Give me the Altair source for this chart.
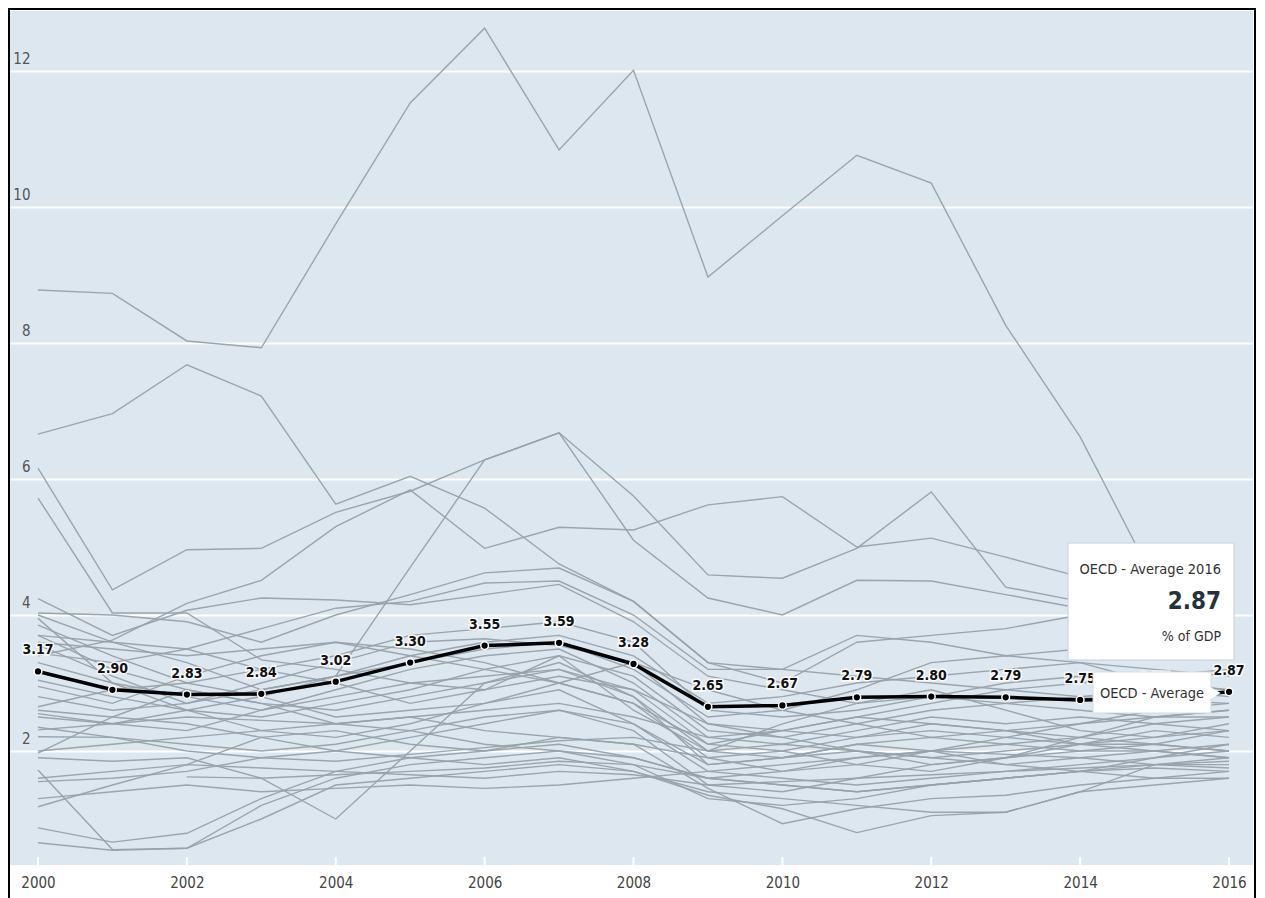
import altair as alt
import pandas as pd

years = list(range(2000, 2017))
oecd_average = [3.17, 2.90, 2.83, 2.84, 3.02, 3.30, 3.55, 3.59, 3.28, 2.65, 2.67, 2.79, 2.80, 2.79, 2.75, 2.77, 2.87]

s01 = [8.78, 8.73, 8.03, 7.93, 9.75, 11.53, 12.63, 10.84, 12.01, 8.97, 9.87, 10.76, 10.35, 8.26, 6.62, 4.50, 4.20]
s02 = [6.66, 6.96, 7.68, 7.22, 5.63, 6.04, 5.57, 4.75, 4.20, 3.30, 3.20, 3.10, 3.00, 2.90, 2.80, 2.75, 2.70]
s03 = [6.16, 4.37, 4.96, 4.98, 5.51, 5.82, 6.28, 6.68, 5.10, 4.25, 4.00, 4.51, 4.50, 4.30, 4.10, 4.00, 3.90]
s04 = [5.72, 4.03, 4.03, 3.34, 3.20, 3.00, 2.90, 3.10, 2.90, 2.40, 2.30, 2.20, 2.30, 2.20, 2.10, 2.10, 2.00]
s05 = [2.50, 2.40, 2.60, 2.80, 3.10, 4.70, 6.28, 6.68, 5.75, 4.59, 4.54, 4.98, 5.81, 4.41, 4.20, 4.05, 3.95]
s06 = [3.40, 3.63, 4.17, 4.51, 5.30, 5.84, 4.98, 5.29, 5.25, 5.62, 5.74, 5.00, 5.13, 4.85, 4.56, 4.40, 4.30]
s07 = [4.24, 3.70, 4.07, 4.25, 4.22, 4.15, 4.30, 4.45, 3.90, 3.10, 2.90, 2.70, 2.80, 2.70, 2.60, 2.50, 2.50]
s08 = [4.03, 4.00, 3.90, 3.60, 4.00, 4.30, 4.62, 4.69, 4.20, 3.30, 3.00, 3.60, 3.70, 3.80, 4.00, 4.20, 4.30]
s09 = [3.70, 3.60, 3.50, 3.80, 4.10, 4.20, 4.47, 4.50, 4.00, 3.20, 3.20, 3.70, 3.60, 3.40, 3.50, 3.60, 3.50]
s10 = [4.00, 3.60, 3.30, 2.90, 3.10, 3.30, 3.50, 3.60, 3.20, 2.50, 2.60, 2.90, 3.30, 3.40, 3.30, 3.20, 3.10]
s11 = [3.95, 3.00, 2.80, 2.60, 2.90, 3.20, 3.40, 3.50, 3.00, 2.20, 2.10, 2.30, 2.50, 2.40, 2.50, 2.40, 2.30]
s12 = [3.85, 3.40, 3.00, 3.20, 3.40, 3.70, 3.80, 3.90, 3.60, 2.60, 2.50, 2.60, 2.80, 3.00, 3.10, 3.00, 2.90]
s13 = [3.70, 3.20, 2.90, 2.70, 2.60, 2.80, 3.00, 3.20, 2.80, 2.00, 1.90, 2.10, 2.20, 2.10, 2.00, 2.00, 1.90]
s14 = [3.56, 3.10, 2.70, 3.00, 3.30, 3.60, 3.65, 3.55, 3.30, 2.40, 2.20, 2.00, 1.90, 1.80, 1.90, 2.00, 2.10]
s15 = [3.44, 3.30, 3.50, 3.20, 3.00, 2.70, 2.90, 3.40, 2.60, 2.00, 2.40, 2.70, 2.90, 2.60, 2.30, 2.20, 2.40]
s16 = [3.04, 2.80, 2.60, 2.50, 2.70, 2.90, 3.20, 3.40, 3.10, 2.30, 2.20, 2.40, 2.60, 2.70, 2.80, 2.90, 2.80]
s17 = [2.95, 2.70, 3.10, 3.40, 3.60, 3.50, 3.30, 3.00, 2.70, 1.90, 1.70, 1.80, 2.00, 2.20, 2.40, 2.50, 2.60]
s18 = [2.65, 2.90, 3.00, 2.80, 2.50, 2.60, 2.70, 2.90, 2.40, 1.70, 1.60, 1.50, 1.60, 1.70, 1.80, 1.90, 2.00]
s19 = [2.55, 2.40, 2.30, 2.60, 2.80, 3.00, 3.10, 3.20, 2.90, 2.10, 2.00, 1.80, 1.70, 1.90, 2.10, 2.30, 2.20]
s20 = [2.31, 2.40, 2.50, 2.45, 2.40, 2.50, 2.60, 2.70, 2.50, 2.20, 2.30, 2.50, 2.40, 2.30, 2.20, 2.40, 2.50]
s21 = [2.21, 2.20, 2.10, 2.00, 2.10, 2.30, 2.50, 2.60, 2.30, 1.50, 1.40, 1.60, 1.80, 1.90, 2.00, 2.10, 2.00]
s22 = [1.97, 2.50, 2.90, 2.70, 2.40, 2.30, 2.10, 2.00, 1.90, 1.60, 1.50, 1.40, 1.50, 1.60, 1.70, 1.80, 1.80]
s23 = [1.72, 0.55, 0.57, 1.20, 1.60, 1.80, 1.90, 2.00, 1.80, 1.30, 1.20, 1.30, 1.50, 1.60, 1.70, 1.60, 1.70]
s24 = [1.55, 1.60, 1.70, 1.90, 2.00, 2.20, 2.40, 2.60, 2.40, 1.80, 1.90, 2.10, 2.00, 1.80, 1.70, 1.90, 2.10]
s25 = [1.18, 1.50, 1.80, 2.20, 2.30, 2.10, 2.00, 2.20, 2.10, 1.45, 0.93, 1.15, 1.30, 1.35, 1.50, 1.60, 1.60]
s26 = [0.87, 0.66, 0.79, 1.30, 1.70, 1.90, 2.00, 2.10, 1.90, 1.60, 1.70, 1.90, 2.00, 2.10, 2.20, 2.10, 2.30]
s27 = [0.65, 0.54, 0.57, 1.00, 1.50, 1.60, 1.70, 1.80, 1.70, 1.40, 1.30, 1.20, 1.10, 1.10, 1.40, 1.50, 1.60]
s28 = [1.90, 1.85, 1.90, 1.60, 1.00, 2.00, 3.00, 3.30, 2.80, 1.80, 1.90, 2.00, 1.80, 1.90, 2.20, 2.50, 2.60]
s29 = [2.60, 2.50, 2.40, 2.20, 2.00, 1.90, 1.80, 1.90, 1.70, 1.35, 1.15, 0.80, 1.05, 1.10, 1.40, 1.80, 1.90]
s30 = [3.30, 3.00, 2.60, 2.30, 2.20, 2.40, 2.70, 3.00, 3.30, 2.90, 2.60, 2.40, 2.20, 2.30, 2.40, 2.60, 2.70]
s31 = [1.60, 1.70, 1.80, 1.75, 1.70, 1.65, 1.60, 1.70, 1.65, 1.50, 1.55, 1.60, 1.65, 1.70, 1.75, 1.80, 1.85]
s32 = [2.00, 2.10, 2.20, 2.30, 2.40, 2.50, 2.30, 2.20, 2.10, 1.90, 2.00, 2.20, 2.40, 2.30, 2.10, 2.00, 1.90]
s33 = [None, None, 1.62, 1.60, 1.65, 1.70, 1.75, 1.85, 1.80, 1.60, 1.50, 1.40, 1.50, 1.60, 1.70, 1.75, 1.70]
s34 = [3.60, 3.50, 3.40, 3.50, 3.60, 3.40, 3.20, 3.00, 2.70, 2.10, 2.30, 2.50, 2.70, 2.90, 3.00, 3.10, 3.20]
s35 = [2.80, 2.60, 2.70, 2.90, 3.10, 3.40, 3.60, 3.70, 3.40, 2.70, 2.80, 3.00, 3.10, 3.20, 3.30, 3.00, 2.90]
s36 = [1.30, 1.40, 1.50, 1.40, 1.45, 1.50, 1.45, 1.50, 1.60, 1.70, 1.80, 1.90, 2.00, 1.95, 1.90, 1.80, 1.75]
s37 = [2.35, 2.20, 2.00, 1.90, 1.85, 1.95, 2.05, 2.15, 2.20, 2.00, 2.10, 2.00, 1.90, 2.00, 2.10, 2.20, 2.30]

grey_series = [s01, s02, s03, s04, s05, s06, s07, s08, s09, s10, s11, s12, s13, s14, s15, s16, s17, s18, s19,
               s20, s21, s22, s23, s24, s25, s26, s27, s28, s29, s30, s31, s32, s33, s34, s35, s36, s37]

x_tick_years = [2000, 2002, 2004, 2006, 2008, 2010, 2012, 2014, 2016]
y_tick_values = [2, 4, 6, 8, 10, 12]

series_name = "OECD - Average"
unit_label = "% of GDP"

rows = []
for i, vals in enumerate(grey_series):
    for yr, v in zip(years, vals):
        if v is not None:
            rows.append({"series": f"s{i + 1:02d}", "year": yr, "value": v})
grey = pd.DataFrame(rows)
avg = pd.DataFrame({"year": years, "value": oecd_average})
ticks_df = pd.DataFrame({"year": x_tick_years})
one = pd.DataFrame({"k": [0]})

FONT = "DejaVu Sans Condensed, Liberation Sans Narrow, sans-serif"
W, H = 1243, 854

xscale = alt.Scale(domain=[1999.624, 2016.322], nice=False, zero=False)
yscale = alt.Scale(domain=[0.3235, 12.882], nice=False, zero=False)
xaxis = alt.Axis(values=x_tick_years, format="d", title=None, grid=False, domain=False, ticks=False,
                 labelPadding=17, labelBaseline="middle", labelFont=FONT, labelFontSize=15,
                 labelColor="#444444", labelFlush=False, labelOverlap=False)
yaxis = alt.Axis(values=y_tick_values, title=None, grid=True, gridColor="white", gridWidth=2, gridOpacity=1,
                 domain=False, ticks=False, labelPadding=-20, labelAlign="right", labelBaseline="alphabetic",
                 labelOffset=-7, labelFont=FONT, labelFontSize=15, labelColor="#555555",
                 labelFlush=False, labelOverlap=False)

X = alt.X("year:Q", scale=xscale, axis=xaxis)
Y = alt.Y("value:Q", scale=yscale, axis=yaxis)

tick_marks = alt.Chart(ticks_df).mark_rule(color="white", strokeWidth=2).encode(
    x=alt.X("year:Q", scale=xscale, axis=xaxis), y=alt.value(H - 8), y2=alt.value(H))

grey_lines = alt.Chart(grey).mark_line(color="#96a1a9", strokeWidth=1.4, opacity=0.95).encode(
    x=X, y=Y, detail="series:N")

avg_line = alt.Chart(avg).mark_line(color="black", strokeWidth=3.5).encode(x=X, y=Y)
avg_pts = alt.Chart(avg).mark_circle(size=60, color="black", stroke="white", strokeWidth=1.5, opacity=1).encode(x=X, y=Y)
halo = alt.Chart(avg).mark_text(dy=-21, baseline="middle", font=FONT, fontSize=14, fontWeight="bold",
                                stroke="white", strokeWidth=3, strokeOpacity=0.85, fill="white").encode(
    x=X, y=Y, text=alt.Text("value:Q", format=".2f"))
labels = alt.Chart(avg).mark_text(dy=-21, baseline="middle", font=FONT, fontSize=14, fontWeight="bold",
                                  fill="#111111").encode(
    x=X, y=Y, text=alt.Text("value:Q", format=".2f"))

big_box = alt.Chart(one).mark_rect(fill="white", stroke="#c8d0d6", strokeWidth=1).encode(
    x=alt.value(1058), x2=alt.value(1224), y=alt.value(532), y2=alt.value(649))
big_t1 = alt.Chart(one).mark_text(align="right", baseline="middle", font=FONT, fontSize=14.5, color="#333333").encode(
    x=alt.value(1211), y=alt.value(559), text=alt.value(f"{series_name} {years[-1]}"))
big_t2 = alt.Chart(one).mark_text(align="right", baseline="middle", font=FONT, fontSize=24, fontWeight="bold",
                                  color="#26313b").encode(
    x=alt.value(1211), y=alt.value(591), text=alt.value(f"{oecd_average[-1]:.2f}"))
big_t3 = alt.Chart(one).mark_text(align="right", baseline="middle", font=FONT, fontSize=14, color="#333333").encode(
    x=alt.value(1211), y=alt.value(626), text=alt.value(unit_label))

small_box = alt.Chart(one).mark_rect(fill="white", stroke="#d5dce1", strokeWidth=1).encode(
    x=alt.value(1083), x2=alt.value(1201), y=alt.value(661), y2=alt.value(702))
arrow = alt.Chart(one).mark_point(shape="triangle-right", filled=True, color="white", size=170, opacity=1).encode(
    x=alt.value(1205), y=alt.value(682))
small_t = alt.Chart(one).mark_text(align="center", baseline="middle", font=FONT, fontSize=14.5, color="#333333").encode(
    x=alt.value(1142), y=alt.value(683), text=alt.value(series_name))

frame = alt.Chart(one).mark_rect(fill="white", fillOpacity=0, stroke="black", strokeWidth=2).encode(
    x=alt.value(-1), x2=alt.value(1245), y=alt.value(-2), y2=alt.value(H + 60))

chart = alt.layer(
    tick_marks, grey_lines, avg_line, avg_pts, halo, labels,
    big_box, big_t1, big_t2, big_t3, small_box, arrow, small_t, frame
).properties(
    width=W, height=H, autosize="none",
    padding={"left": 2, "top": 3, "right": 4, "bottom": 33},
    background="white",
).configure_view(fill="#dce7f0", stroke=None, strokeWidth=0)

chart.save("out.html", embed_options={"renderer": "svg", "actions": False})
